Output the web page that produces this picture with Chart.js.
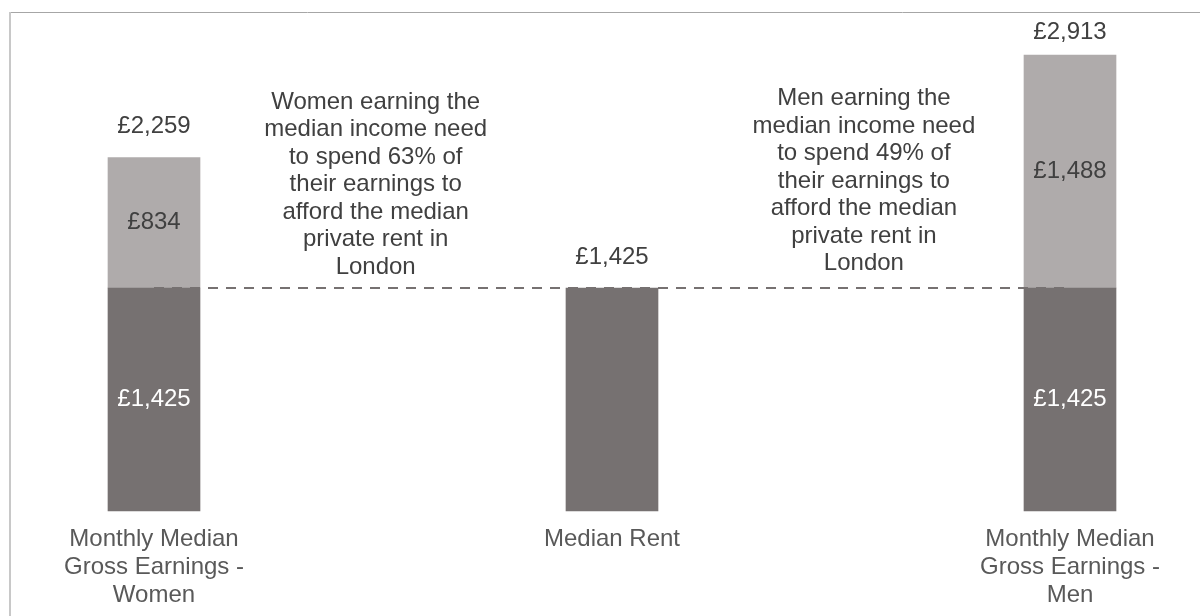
<!DOCTYPE html>
<html>
<head>
<meta charset="utf-8">
<script src="https://cdn.jsdelivr.net/npm/chart.js@4/dist/chart.umd.min.js"></script>
<style>
  html, body { margin: 0; padding: 0; background: #ffffff; }
  #wrap { width: 1200px; height: 616px; position: relative; }
</style>
</head>
<body>
<div id="wrap"><canvas id="c" width="1200" height="616"></canvas></div>
<script>
// ---- data ----
const categories = [
  ["Monthly Median", "Gross Earnings -", "Women"],
  ["Median Rent"],
  ["Monthly Median", "Gross Earnings -", "Men"]
];
const rentPortion = [1425, 1425, 1425];
const remainderPortion = [834, null, 1488];
const rentReference = [1425, 1425, 1425];
const annotationWomen = [
  "Women earning the", "median income need", "to spend 63% of",
  "their earnings to", "afford the median", "private rent in", "London"
];
const annotationMen = [
  "Men earning the", "median income need", "to spend 49% of",
  "their earnings to", "afford the median", "private rent in", "London"
];

// ---- styling / layout ----
const FONT = '"Liberation Sans", Arial, sans-serif';
const DARK = '#767171';
const LIGHT = '#AFABAB';
const TEXT = '#404040';
const LINE_H = 27.5;

const fmt = v => '\u00A3' + Number(v).toLocaleString('en-GB');

const annotations = [
  { lines: annotationWomen, xIndex: 0.484, topValue: 2612 },
  { lines: annotationMen,   xIndex: 1.550, topValue: 2634 }
];

const labelPlugin = {
  id: 'labels',
  beforeDraw(chart) {
    const ctx = chart.ctx;
    ctx.save();
    ctx.fillStyle = '#ffffff';
    ctx.fillRect(0, 0, chart.width, chart.height);
    ctx.lineWidth = 1;
    ctx.strokeStyle = '#a6a6a6';
    ctx.beginPath();
    ctx.moveTo(10, 12.5); ctx.lineTo(chart.width, 12.5);
    ctx.stroke();
    ctx.strokeStyle = '#c8c8c8';
    ctx.lineWidth = 2;
    ctx.beginPath();
    ctx.moveTo(10, 12); ctx.lineTo(10, chart.height);
    ctx.stroke();
    ctx.restore();
  },
  afterDatasetsDraw(chart) {
    const ctx = chart.ctx;
    const x = chart.scales.x, y = chart.scales.y;
    const darkMeta = chart.getDatasetMeta(0);
    const lightMeta = chart.getDatasetMeta(1);
    ctx.save();
    ctx.font = '24px ' + FONT;
    ctx.textAlign = 'center';
    ctx.textBaseline = 'middle';
    categories.forEach((c, i) => {
      const d = darkMeta.data[i];
      const hasLight = remainderPortion[i] != null && remainderPortion[i] > 0;
      const total = rentPortion[i] + (hasLight ? remainderPortion[i] : 0);
      const topPx = y.getPixelForValue(total);
      // total label above bar
      ctx.fillStyle = TEXT;
      ctx.fillText(fmt(total), d.x, Math.max(topPx - 31, 32));
      if (hasLight) {
        const l = lightMeta.data[i];
        ctx.fillStyle = '#ffffff';
        ctx.fillText(fmt(rentPortion[i]), d.x, (d.y + d.base) / 2);
        ctx.fillStyle = TEXT;
        ctx.fillText(fmt(remainderPortion[i]), l.x, (l.y + l.base) / 2);
      }
    });
    // annotations
    ctx.fillStyle = TEXT;
    annotations.forEach(a => {
      const cx = x.getPixelForDecimal(0) + a.xIndex * (x.getPixelForValue(1) - x.getPixelForValue(0));
      const ty = y.getPixelForValue(a.topValue);
      a.lines.forEach((t, k) => ctx.fillText(t, cx, ty + k * LINE_H));
    });
    ctx.restore();
  }
};

new Chart(document.getElementById('c'), {
  data: {
    labels: categories,
    datasets: [
      {
        type: 'bar', label: 'Rent', data: rentPortion,
        backgroundColor: DARK, barThickness: 92, stack: 'bars', order: 2, clip: false
      },
      {
        type: 'bar', label: 'Remainder', data: remainderPortion,
        backgroundColor: LIGHT, barThickness: 92, stack: 'bars', order: 3, clip: false
      },
      {
        type: 'line', label: 'Median rent', data: rentReference,
        borderColor: '#767171', borderWidth: 2, borderDash: [10, 8],
        pointRadius: 0, fill: false, stack: 'ref', order: 1, clip: false
      }
    ]
  },
  options: {
    responsive: false,
    animation: false,
    layout: { padding: { left: 154, right: 130, top: 41.5, bottom: 7 } },
    plugins: { legend: { display: false }, tooltip: { enabled: false } },
    scales: {
      x: {
        type: 'category', offset: false, stacked: true,
        grid: { display: false, drawTicks: false }, border: { display: false },
        ticks: {
          autoSkip: false, maxRotation: 0, minRotation: 0, padding: 15,
          color: '#595959', font: { family: FONT, size: 24, lineHeight: 1.15 }
        },
        afterFit: s => { s.height = 98; }
      },
      y: {
        display: false, stacked: true, min: 0, max: 3000
      }
    }
  },
  plugins: [labelPlugin]
});
</script>
</body>
</html>
